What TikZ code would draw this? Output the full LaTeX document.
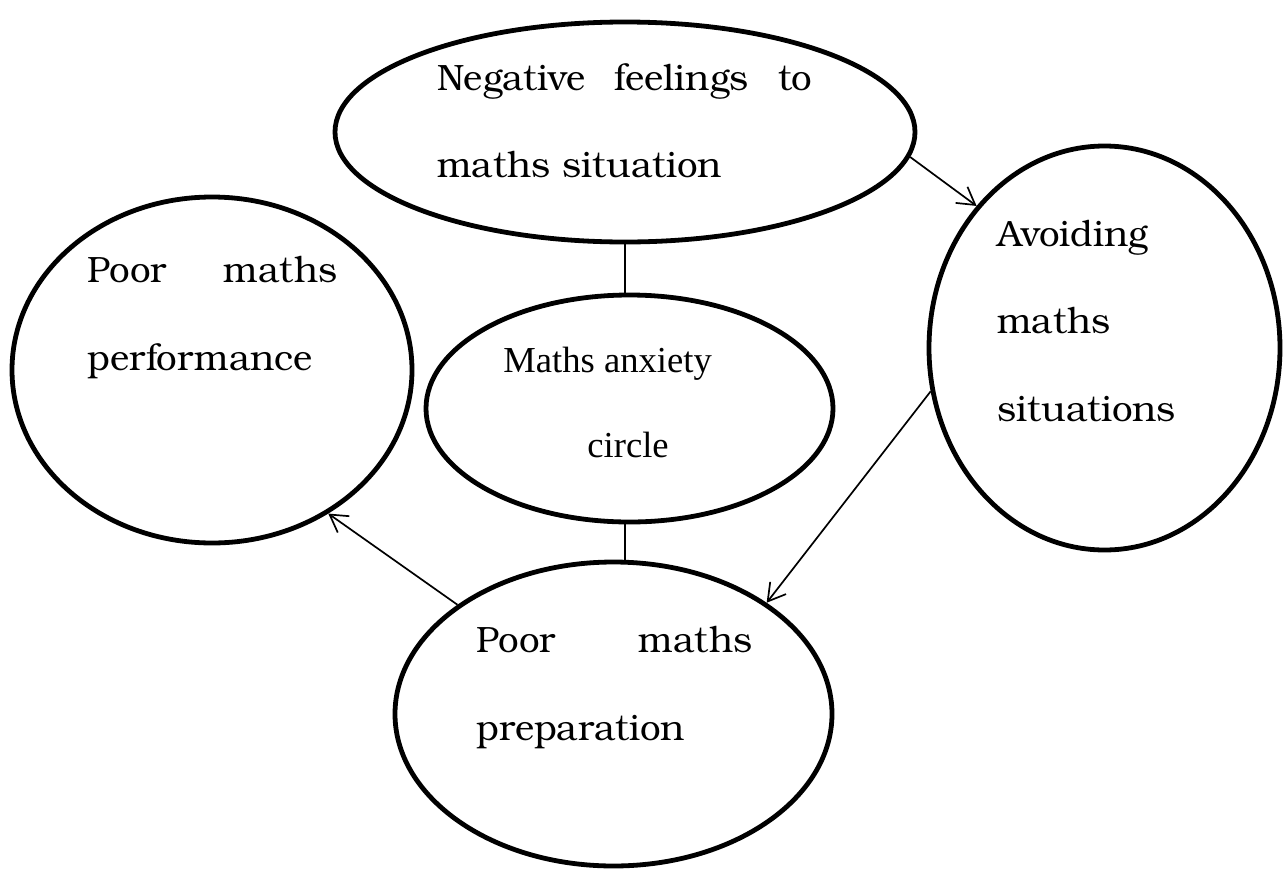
\documentclass[tikz,border=0pt]{standalone}
\usepackage{fontspec}
\setmainfont{Liberation Serif}
\newfontfamily\bk{TeX Gyre Bonum}
\usetikzlibrary{shapes.geometric,arrows.meta}
\begin{document}
\begin{tikzpicture}[x=0.5pt,y=-0.5pt,
  bubble/.style={draw, ellipse, line width=2.4pt, inner sep=0pt},
  conn/.style={line width=0.85pt},
  arr/.style={line width=0.85pt, -{Straight Barb[length=8.5pt,width=10pt]}},
  bktext/.style={anchor=base west, inner sep=0pt, font=\bk\fontsize{18.3}{22}\selectfont},
  tmtext/.style={anchor=base west, inner sep=0pt, font=\fontsize{18.3}{22}\selectfont}]
\useasboundingbox (0,0) rectangle (1285,868);
% bubbles
\node[bubble, minimum width=290pt, minimum height=110pt] (neg) at (625,132) {};
\node[bubble, minimum width=200pt, minimum height=173pt] (lft) at (212,370) {};
\node[bubble, minimum width=203.5pt, minimum height=113.5pt] (cen) at (629.5,408.5) {};
\node[bubble, minimum width=175.5pt, minimum height=202pt] (rgt) at (1104.5,348) {};
\node[bubble, minimum width=218.5pt, minimum height=152pt] (bot) at (613.5,714) {};
% texts
\node[bktext] (neg1) at (437,90) {\makebox[187.5pt][s]{Negative feelings to}};
\node[bktext] (neg2) at (437,177) {maths situation};
\node[bktext] (lft1) at (87,282) {\makebox[125pt][s]{Poor maths}};
\node[bktext] (lft2) at (87,370) {performance};
\node[tmtext] (cen1) at (503,372) {Maths anxiety};
\node[tmtext] (cen2) at (587,457) {circle};
\node[bktext] (rgt1) at (997,246) {Avoiding};
\node[bktext] (rgt2) at (997,333) {maths};
\node[bktext] (rgt3) at (997,421) {situations};
\node[bktext] (bot1) at (476,652) {\makebox[138pt][s]{Poor maths}};
\node[bktext] (bot2) at (476,740) {preparation};
% connectors
\draw[conn] (neg.south) -- (neg.south |- cen.north);
\draw[conn] (cen.south -| neg.south) -- (bot.north -| neg.south);
\draw[arr] (neg.-5) -- (rgt.132);
\draw[arr] (rgt.194.5) -- (bot.36);
\draw[arr] (bot.145.7) -- (lft.-51);
\end{tikzpicture}
\end{document}
